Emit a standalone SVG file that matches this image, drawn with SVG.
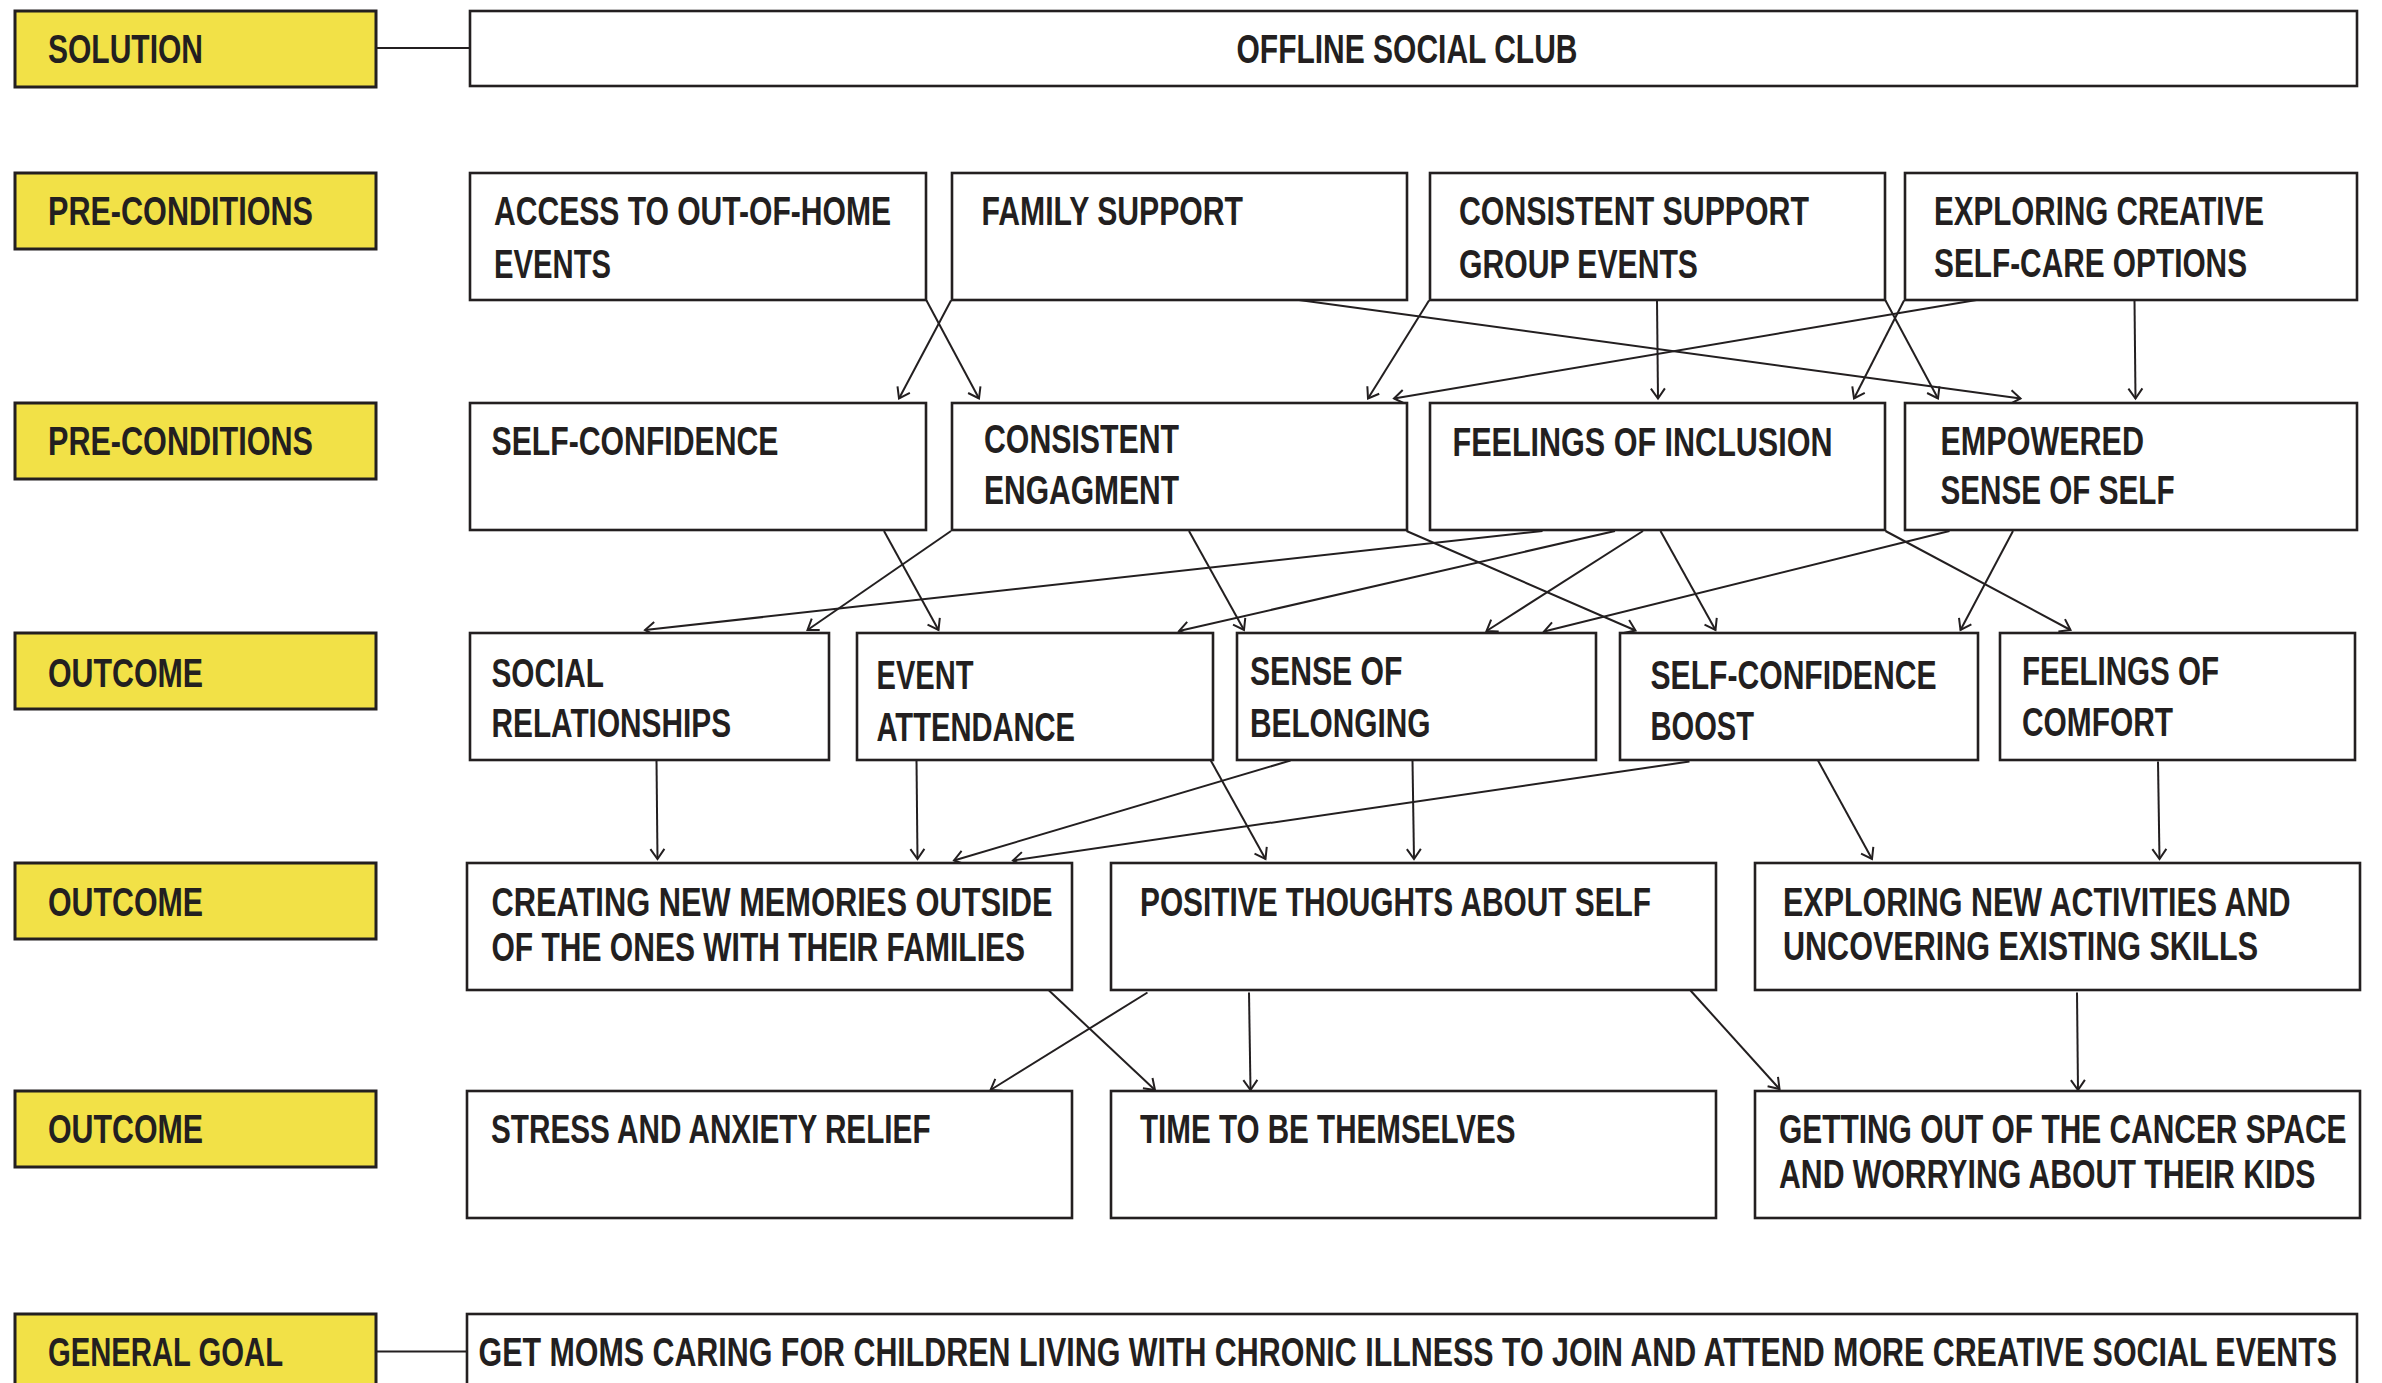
<svg xmlns="http://www.w3.org/2000/svg" width="2382" height="1383" viewBox="0 0 2382 1383">
<style>
.bg{fill:#ffffff}
.lab{fill:#F2E147;stroke:#231F20;stroke-width:3}
.box{fill:#ffffff;stroke:#231F20;stroke-width:2.6}
.t{font-family:"Liberation Sans",Arial,sans-serif;font-weight:bold;font-size:40px;fill:#231F20}
.c line{stroke:#231F20;stroke-width:2;fill:none}
.arr line{marker-end:url(#ah)}
</style>
<defs>
<marker id="ah" markerUnits="userSpaceOnUse" markerWidth="24" markerHeight="24" refX="12" refY="12" orient="auto" viewBox="0 0 24 24">
<path d="M2,5 L12,12 L2,19" fill="none" stroke="#231F20" stroke-width="2"/>
</marker>
</defs>
<rect class="bg" x="0" y="0" width="2382" height="1383"/>

<g id="connectors" class="c">
<line x1="376" y1="48" x2="470" y2="48"/>
<line x1="376" y1="1351.5" x2="467" y2="1351.5"/>
<g class="arr">
<line x1="926.5" y1="300.5" x2="979" y2="398.5"/>
<line x1="951" y1="300.5" x2="899" y2="398.5"/>
<line x1="1299" y1="300" x2="2020.5" y2="398.5"/>
<line x1="1429" y1="300.5" x2="1368" y2="398.5"/>
<line x1="1976.5" y1="300" x2="1394" y2="398.5"/>
<line x1="1657" y1="300.5" x2="1658" y2="398.5"/>
<line x1="1885.5" y1="300.5" x2="1938" y2="398.5"/>
<line x1="1904" y1="300.5" x2="1854" y2="398.5"/>
<line x1="2134.5" y1="300.5" x2="2135.5" y2="398.5"/>

<line x1="884" y1="531" x2="938.5" y2="630"/>
<line x1="951" y1="531" x2="807.5" y2="630"/>
<line x1="1189" y1="531" x2="1244" y2="630"/>
<line x1="1406.5" y1="531" x2="1635.5" y2="630.5"/>
<line x1="1542.5" y1="531" x2="645" y2="630"/>
<line x1="1615" y1="531" x2="1179" y2="631"/>
<line x1="1643" y1="531" x2="1486.5" y2="631"/>
<line x1="1660.5" y1="531" x2="1715.5" y2="630"/>
<line x1="1949.5" y1="531" x2="1544" y2="631.5"/>
<line x1="2013" y1="531" x2="1960.5" y2="630"/>
<line x1="1885.5" y1="531" x2="2070.5" y2="630"/>

<line x1="656.5" y1="760" x2="657.5" y2="859"/>
<line x1="916.5" y1="760" x2="917.5" y2="859"/>
<line x1="1290.5" y1="760.5" x2="954" y2="860.5"/>
<line x1="1689.5" y1="761.5" x2="1013" y2="860.5"/>
<line x1="1210.5" y1="760" x2="1265.5" y2="859"/>
<line x1="1412.5" y1="760.5" x2="1414" y2="859"/>
<line x1="1818" y1="760.5" x2="1872" y2="859"/>
<line x1="2158" y1="761.5" x2="2159.5" y2="859"/>

<line x1="1049" y1="990.5" x2="1155" y2="1090"/>
<line x1="1147.5" y1="992.5" x2="990.5" y2="1090"/>
<line x1="1249" y1="992.5" x2="1250.5" y2="1090"/>
<line x1="1690.5" y1="990.5" x2="1779.5" y2="1089"/>
<line x1="2077" y1="992.5" x2="2078" y2="1090"/>
</g>
</g>

<g id="label-solution"><rect class="lab" x="15" y="11" width="361" height="76"/><text class="t" transform="translate(48,62.5) scale(0.78,1)" textLength="198.7" lengthAdjust="spacingAndGlyphs">SOLUTION</text></g>
<g id="label-pre1"><rect class="lab" x="15" y="173" width="361" height="76"/><text class="t" transform="translate(48,225) scale(0.78,1)" textLength="339.7" lengthAdjust="spacingAndGlyphs">PRE-CONDITIONS</text></g>
<g id="label-pre2"><rect class="lab" x="15" y="403" width="361" height="76"/><text class="t" transform="translate(48,455) scale(0.78,1)" textLength="339.7" lengthAdjust="spacingAndGlyphs">PRE-CONDITIONS</text></g>
<g id="label-out1"><rect class="lab" x="15" y="633" width="361" height="76"/><text class="t" transform="translate(48,686.5) scale(0.78,1)" textLength="198.7" lengthAdjust="spacingAndGlyphs">OUTCOME</text></g>
<g id="label-out2"><rect class="lab" x="15" y="863" width="361" height="76"/><text class="t" transform="translate(48,915.5) scale(0.78,1)" textLength="198.7" lengthAdjust="spacingAndGlyphs">OUTCOME</text></g>
<g id="label-out3"><rect class="lab" x="15" y="1091" width="361" height="76"/><text class="t" transform="translate(48,1143) scale(0.78,1)" textLength="198.7" lengthAdjust="spacingAndGlyphs">OUTCOME</text></g>
<g id="label-goal"><rect class="lab" x="15" y="1314" width="361" height="100"/><text class="t" transform="translate(48,1365.5) scale(0.78,1)" textLength="301.3" lengthAdjust="spacingAndGlyphs">GENERAL GOAL</text></g>

<g id="offline-social-club"><rect class="box" x="470" y="11" width="1887" height="75"/><text class="t" transform="translate(1236.5,62.5) scale(0.78,1)" textLength="437.2" lengthAdjust="spacingAndGlyphs">OFFLINE SOCIAL CLUB</text></g>

<g id="access-events"><rect class="box" x="470" y="173" width="456" height="127"/><text class="t" transform="translate(494,225) scale(0.78,1)" textLength="509" lengthAdjust="spacingAndGlyphs">ACCESS TO OUT-OF-HOME</text><text class="t" transform="translate(494,277.5) scale(0.78,1)" textLength="150" lengthAdjust="spacingAndGlyphs">EVENTS</text></g>
<g id="family-support"><rect class="box" x="952" y="173" width="455" height="127"/><text class="t" transform="translate(981.5,225) scale(0.78,1)" textLength="335.3" lengthAdjust="spacingAndGlyphs">FAMILY SUPPORT</text></g>
<g id="support-group"><rect class="box" x="1430" y="173" width="455" height="127"/><text class="t" transform="translate(1459,225) scale(0.78,1)" textLength="448.7" lengthAdjust="spacingAndGlyphs">CONSISTENT SUPPORT</text><text class="t" transform="translate(1459,277.5) scale(0.78,1)" textLength="306.4" lengthAdjust="spacingAndGlyphs">GROUP EVENTS</text></g>
<g id="creative-selfcare"><rect class="box" x="1905" y="173" width="452" height="127"/><text class="t" transform="translate(1934,225) scale(0.78,1)" textLength="423.1" lengthAdjust="spacingAndGlyphs">EXPLORING CREATIVE</text><text class="t" transform="translate(1934,276.5) scale(0.78,1)" textLength="401.3" lengthAdjust="spacingAndGlyphs">SELF-CARE OPTIONS</text></g>

<g id="self-confidence"><rect class="box" x="470" y="403" width="456" height="127"/><text class="t" transform="translate(491.5,454.5) scale(0.78,1)" textLength="367.9" lengthAdjust="spacingAndGlyphs">SELF-CONFIDENCE</text></g>
<g id="consistent-engagement"><rect class="box" x="952" y="403" width="455" height="127"/><text class="t" transform="translate(984,452.5) scale(0.78,1)" textLength="250" lengthAdjust="spacingAndGlyphs">CONSISTENT</text><text class="t" transform="translate(984,504) scale(0.78,1)" textLength="250" lengthAdjust="spacingAndGlyphs">ENGAGMENT</text></g>
<g id="feelings-inclusion"><rect class="box" x="1430" y="403" width="455" height="127"/><text class="t" transform="translate(1452.5,456) scale(0.78,1)" textLength="487.2" lengthAdjust="spacingAndGlyphs">FEELINGS OF INCLUSION</text></g>
<g id="empowered-self"><rect class="box" x="1905" y="403" width="452" height="127"/><text class="t" transform="translate(1940.5,455) scale(0.78,1)" textLength="260.9" lengthAdjust="spacingAndGlyphs">EMPOWERED</text><text class="t" transform="translate(1940.5,504) scale(0.78,1)" textLength="300" lengthAdjust="spacingAndGlyphs">SENSE OF SELF</text></g>

<g id="social-relationships"><rect class="box" x="470" y="633" width="359" height="127"/><text class="t" transform="translate(491.5,686.5) scale(0.78,1)" textLength="144.2" lengthAdjust="spacingAndGlyphs">SOCIAL</text><text class="t" transform="translate(491.5,736.5) scale(0.78,1)" textLength="307.1" lengthAdjust="spacingAndGlyphs">RELATIONSHIPS</text></g>
<g id="event-attendance"><rect class="box" x="857" y="633" width="356" height="127"/><text class="t" transform="translate(876.5,689) scale(0.78,1)" textLength="124.4" lengthAdjust="spacingAndGlyphs">EVENT</text><text class="t" transform="translate(876.5,740.5) scale(0.78,1)" textLength="254.5" lengthAdjust="spacingAndGlyphs">ATTENDANCE</text></g>
<g id="sense-belonging"><rect class="box" x="1237" y="633" width="359" height="127"/><text class="t" transform="translate(1250,685) scale(0.78,1)" textLength="195.5" lengthAdjust="spacingAndGlyphs">SENSE OF</text><text class="t" transform="translate(1250,736.5) scale(0.78,1)" textLength="231.4" lengthAdjust="spacingAndGlyphs">BELONGING</text></g>
<g id="self-confidence-boost"><rect class="box" x="1620" y="633" width="358" height="127"/><text class="t" transform="translate(1650.5,689) scale(0.78,1)" textLength="366.7" lengthAdjust="spacingAndGlyphs">SELF-CONFIDENCE</text><text class="t" transform="translate(1650.5,740) scale(0.78,1)" textLength="132.7" lengthAdjust="spacingAndGlyphs">BOOST</text></g>
<g id="feelings-comfort"><rect class="box" x="2000" y="633" width="355" height="127"/><text class="t" transform="translate(2022,685) scale(0.78,1)" textLength="252.6" lengthAdjust="spacingAndGlyphs">FEELINGS OF</text><text class="t" transform="translate(2022,735.5) scale(0.78,1)" textLength="193.6" lengthAdjust="spacingAndGlyphs">COMFORT</text></g>

<g id="new-memories"><rect class="box" x="467" y="863" width="605" height="127"/><text class="t" transform="translate(491.5,915.5) scale(0.78,1)" textLength="719.2" lengthAdjust="spacingAndGlyphs">CREATING NEW MEMORIES OUTSIDE</text><text class="t" transform="translate(491.5,961) scale(0.78,1)" textLength="684" lengthAdjust="spacingAndGlyphs">OF THE ONES WITH THEIR FAMILIES</text></g>
<g id="positive-thoughts"><rect class="box" x="1111" y="863" width="605" height="127"/><text class="t" transform="translate(1140,915.5) scale(0.78,1)" textLength="655.1" lengthAdjust="spacingAndGlyphs">POSITIVE THOUGHTS ABOUT SELF</text></g>
<g id="new-activities"><rect class="box" x="1755" y="863" width="605" height="127"/><text class="t" transform="translate(1783,915.5) scale(0.78,1)" textLength="650.6" lengthAdjust="spacingAndGlyphs">EXPLORING NEW ACTIVITIES AND</text><text class="t" transform="translate(1783,960) scale(0.78,1)" textLength="609" lengthAdjust="spacingAndGlyphs">UNCOVERING EXISTING SKILLS</text></g>

<g id="stress-relief"><rect class="box" x="467" y="1091" width="605" height="127"/><text class="t" transform="translate(491,1143) scale(0.78,1)" textLength="563.5" lengthAdjust="spacingAndGlyphs">STRESS AND ANXIETY RELIEF</text></g>
<g id="time-themselves"><rect class="box" x="1111" y="1091" width="605" height="127"/><text class="t" transform="translate(1140,1143) scale(0.78,1)" textLength="481.4" lengthAdjust="spacingAndGlyphs">TIME TO BE THEMSELVES</text></g>
<g id="cancer-space"><rect class="box" x="1755" y="1091" width="605" height="127"/><text class="t" transform="translate(1779,1143) scale(0.78,1)" textLength="727.6" lengthAdjust="spacingAndGlyphs">GETTING OUT OF THE CANCER SPACE</text><text class="t" transform="translate(1779,1188) scale(0.78,1)" textLength="687.8" lengthAdjust="spacingAndGlyphs">AND WORRYING ABOUT THEIR KIDS</text></g>

<g id="general-goal"><rect class="box" x="467" y="1314" width="1890" height="100"/><text class="t" transform="translate(478.5,1365.5) scale(0.78,1)" textLength="2382.7" lengthAdjust="spacingAndGlyphs">GET MOMS CARING FOR CHILDREN LIVING WITH CHRONIC ILLNESS TO JOIN AND ATTEND MORE CREATIVE SOCIAL EVENTS</text></g>
</svg>
